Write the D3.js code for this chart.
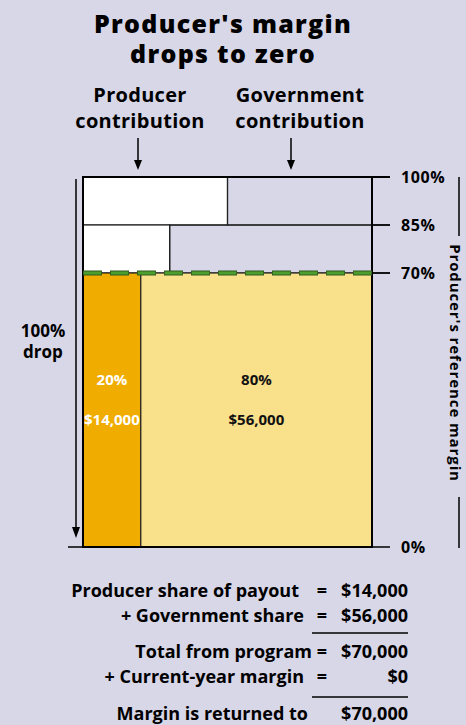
<!DOCTYPE html>
<html>
<head>
<meta charset="utf-8">
<script src="https://cdn.jsdelivr.net/npm/d3@7"></script>
<style>
  html, body { margin: 0; padding: 0; background: #d8d7e8; }
  svg { display: block; font-family: "Open Sans", sans-serif; font-weight: 700; }
</style>
</head>
<body>
<div id="chart"></div>
<script>
// margin levels (percent of reference margin)
const levels = [0, 70, 85, 100];
const levelLabels = ["0%", "70%", "85%", "100%"];

// tiers: producer share of each tier (percent), government gets the rest
const tierLow = [85, 70, 0];
const tierHigh = [100, 85, 70];
const producerShare = [50, 30, 20];
const tierTriggered = [false, false, true];

// payout in the triggered tier
const payoutPct = ["20%", "80%"];
const payoutAmt = ["$14,000", "$56,000"];

const summaryLabels = ["Producer share of payout", "+ Government share", "Total from program", "+ Current-year margin", "Margin is returned to"];
const summaryEq = ["=", "=", "=", "=", ""];
const summaryValues = ["$14,000", "$56,000", "$70,000", "$0", "$70,000"];

const W = 466, H = 725;
const svg = d3.select("#chart").append("svg").attr("width", W).attr("height", H);

// schematic (not to scale) vertical axis
const y = d3.scaleLinear().domain(levels).range([547, 273, 225, 177]);
const x = d3.scaleLinear().domain([0, 100]).range([83, 372]);

// title
svg.append("text").attr("x", 223).attr("y", 33).attr("text-anchor", "middle")
  .style("font-size", "25px").style("font-weight", 800).style("letter-spacing", "1.3px").text("Producer's margin");
svg.append("text").attr("x", 223).attr("y", 63).attr("text-anchor", "middle")
  .style("font-size", "25px").style("font-weight", 800).style("letter-spacing", "1.3px").text("drops to zero");

// column headers + arrows
let heads = [{t: ["Producer", "contribution"], cx: 140, ax: 138}, {t: ["Government", "contribution"], cx: 300, ax: 291}];
heads.forEach(function(h) {
  h.t.forEach(function(s, i) {
    svg.append("text").attr("x", h.cx).attr("y", 102 + i * 26).attr("text-anchor", "middle")
      .style("font-size", "20px").style("letter-spacing", "0.3px").text(s);
  });
  svg.append("line").attr("x1", h.ax).attr("x2", h.ax).attr("y1", 138).attr("y2", 162)
    .attr("stroke", "#000").attr("stroke-width", 1.5);
  svg.append("path").attr("d", "M" + (h.ax - 4) + ",160L" + (h.ax + 4) + ",160L" + h.ax + ",170Z").attr("fill", "#000");
});

// tiers
tierLow.forEach(function(lo, i) {
  let hi = tierHigh[i];
  let split = x(producerShare[i]);
  svg.append("rect").attr("x", x(0)).attr("y", y(hi)).attr("width", split - x(0)).attr("height", y(lo) - y(hi))
    .attr("fill", tierTriggered[i] ? "#f0ad00" : "#ffffff").attr("stroke", "#222").attr("stroke-width", 1.2);
  svg.append("rect").attr("x", split).attr("y", y(hi)).attr("width", x(100) - split).attr("height", y(lo) - y(hi))
    .attr("fill", tierTriggered[i] ? "#f9e08b" : "none").attr("stroke", "#222").attr("stroke-width", 1.2);
});

// outer box
svg.append("rect").attr("x", x(0)).attr("y", y(100)).attr("width", x(100) - x(0)).attr("height", y(0) - y(100))
  .attr("fill", "none").attr("stroke", "#000").attr("stroke-width", 2);

// tick lines on the right
levels.forEach(function(l, i) {
  svg.append("line").attr("x1", l === 0 ? 68 : x(100)).attr("x2", 390).attr("y1", y(l)).attr("y2", y(l))
    .attr("stroke", "#000").attr("stroke-width", l === 0 ? 1.5 : 1.8);
  svg.append("text").attr("x", 401).attr("y", y(l) + 6).style("font-size", "16px").style("letter-spacing", "0.6px").text(levelLabels[i]);
});
svg.append("line").attr("x1", x(0)).attr("x2", 390).attr("y1", y(100)).attr("y2", y(100)).attr("stroke", "#000").attr("stroke-width", 2);

// dashed green reference line at 70%
svg.append("line").attr("x1", x(0)).attr("x2", x(100)).attr("y1", y(70)).attr("y2", y(70))
  .attr("stroke", "#2f5a1c").attr("stroke-width", 5).attr("stroke-dasharray", "19,8");
svg.append("line").attr("x1", x(0) + 0.8).attr("x2", x(100)).attr("y1", y(70)).attr("y2", y(70))
  .attr("stroke", "#4e9e2e").attr("stroke-width", 3).attr("stroke-dasharray", "17.4,9.6");

// payout labels
let payoutX = [x(producerShare[2] / 2), x((producerShare[2] + 100) / 2)];
let payoutColor = ["#fff", "#111"];
payoutPct.forEach(function(p, i) {
  svg.append("text").attr("x", payoutX[i]).attr("y", 385).attr("text-anchor", "middle")
    .style("font-size", "15px").attr("fill", payoutColor[i]).text(p);
  svg.append("text").attr("x", payoutX[i]).attr("y", 425).attr("text-anchor", "middle")
    .style("font-size", "15px").attr("fill", payoutColor[i]).text(payoutAmt[i]);
});

// left arrow: 100% drop
svg.append("line").attr("x1", 76).attr("x2", 76).attr("y1", 179).attr("y2", 530).attr("stroke", "#000").attr("stroke-width", 1.5);
svg.append("path").attr("d", "M72,527L80,527L76,538Z").attr("fill", "#000");
svg.append("text").attr("x", 43).attr("y", 337).attr("text-anchor", "middle").style("font-size", "17px").text("100%");
svg.append("text").attr("x", 43).attr("y", 358).attr("text-anchor", "middle").style("font-size", "17px").text("drop");

// right side vertical title
svg.append("line").attr("x1", 459).attr("x2", 459).attr("y1", 177).attr("y2", 236).attr("stroke", "#000").attr("stroke-width", 1.5);
svg.append("line").attr("x1", 459).attr("x2", 459).attr("y1", 497).attr("y2", 548).attr("stroke", "#000").attr("stroke-width", 1.5);
svg.append("text").attr("transform", "translate(450,363)rotate(90)").attr("text-anchor", "middle")
  .style("font-size", "15px").style("letter-spacing", "0.9px").text("Producer's reference margin");

// summary
let rowY = [597, 622, 658, 683, 720];
let labelEnd = [299, 304, 312, 304, 308];
summaryLabels.forEach(function(s, i) {
  svg.append("text").attr("x", labelEnd[i]).attr("y", rowY[i]).attr("text-anchor", "end").style("font-size", "18px").text(s);
  svg.append("text").attr("x", 322).attr("y", rowY[i]).attr("text-anchor", "middle").style("font-size", "18px").text(summaryEq[i]);
  svg.append("text").attr("x", 408).attr("y", rowY[i]).attr("text-anchor", "end").style("font-size", "18px").text(summaryValues[i]);
});
[633, 697].forEach(function(ly) {
  svg.append("line").attr("x1", 312).attr("x2", 408).attr("y1", ly).attr("y2", ly).attr("stroke", "#000").attr("stroke-width", 1.5);
});
</script>
</body>
</html>
